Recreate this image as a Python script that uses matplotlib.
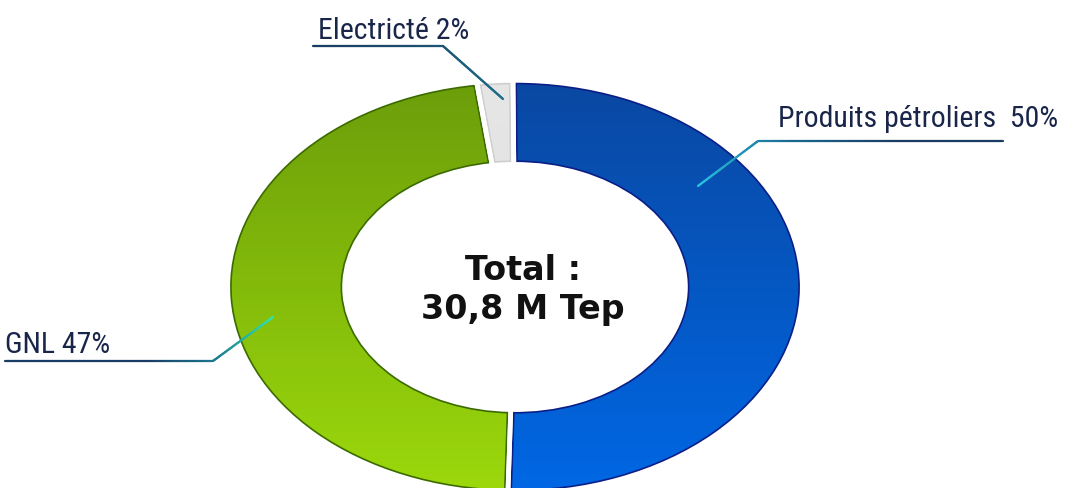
import numpy as np
import matplotlib
matplotlib.use("Agg")
import matplotlib.pyplot as plt
from matplotlib.colors import LinearSegmentedColormap
from matplotlib.patches import PathPatch
from matplotlib.collections import LineCollection

# Energy mix (share of total, %)
categories = ["Produits pétroliers", "GNL", "Electricté"]
shares = [50, 47, 2]
label_texts = ["Produits pétroliers  50%", "GNL 47%", "Electricté 2%"]
total_lines = ["Total :", "30,8 M Tep"]

# Fill gradients (top colour, bottom colour) and outline colour per slice
fill_top = ["#0a47a0", "#6a9c0a", "#e6e6e6"]
fill_bottom = ["#0068e6", "#9dda0c", "#dedede"]
outline = ["#0a1e86", "#3b6a00", "#cfcfcf"]

W, H = 1074, 489
fig = plt.figure(figsize=(W / 100, H / 100), dpi=100)
ax = fig.add_axes([0, 0, 1, 1])
ax.set_axis_off()

# ring geometry in pixels: centre and horizontal / vertical radius
cx, cy, rx, ry = 515, 288, 285, 205
xlim = (-cx / rx, (W - cx) / rx)
ylim = (-(H - cy) / ry, cy / ry)

ring_width = 0.41
wedges, _ = ax.pie(
    shares, startangle=90.4, counterclock=False, radius=1.008,
    colors=fill_bottom,
    wedgeprops=dict(width=ring_width, edgecolor="none", linewidth=0),
)

# vertical colour gradient inside every slice
grad = np.linspace(0, 1, 256).reshape(-1, 1)
for w, c0, c1 in zip(wedges, fill_bottom, fill_top):
    cmap = LinearSegmentedColormap.from_list("g", [c0, c1])
    im = ax.imshow(grad, cmap=cmap, extent=[-1.05, 1.05, -1.05, 1.05],
                   origin="lower", aspect="auto", zorder=1.5,
                   interpolation="bilinear")
    im.set_clip_path(w)

# thin dark outline inside each slice, white gaps between slices
gap = 3.4
for w, oc in zip(wedges, outline):
    edge = PathPatch(w.get_path(), transform=w.get_transform(),
                     facecolor="none", edgecolor=oc, linewidth=gap + 2.4,
                     zorder=3)
    edge.set_clip_path(w)
    ax.add_patch(edge)
    sep = PathPatch(w.get_path(), transform=w.get_transform(),
                    facecolor="none", edgecolor="white", linewidth=gap,
                    zorder=4)
    ax.add_patch(sep)

ax.set_xlim(*xlim)
ax.set_ylim(*ylim)


def fig_xy(px, py):
    return px / W, 1 - py / H


def leader(points, colors, lw=1.6):
    """Polyline given in pixels, coloured along its length."""
    pts = np.array(points, dtype=float)
    seg_len = np.hypot(*np.diff(pts, axis=0).T)
    t_nodes = np.concatenate([[0], np.cumsum(seg_len)]) / seg_len.sum()
    t = np.linspace(0, 1, 200)
    xs = np.interp(t, t_nodes, pts[:, 0])
    ys = np.interp(t, t_nodes, pts[:, 1])
    fx, fy = fig_xy(xs, ys)
    segs = np.stack([np.column_stack([fx[:-1], fy[:-1]]),
                     np.column_stack([fx[1:], fy[1:]])], axis=1)
    cmap = LinearSegmentedColormap.from_list("l", colors)
    lc = LineCollection(segs, colors=cmap(t[:-1]), linewidths=lw,
                        transform=fig.transFigure, zorder=6,
                        capstyle="round")
    fig.add_artist(lc)


label_font = ["Liberation Sans Narrow", "Roboto Condensed", "DejaVu Sans"]
label_color = "#19264a"
label_size = 21.5

# Produits pétroliers
fig.text(*fig_xy(778, 127), label_texts[0], fontsize=label_size,
         family=label_font, color=label_color, ha="left", va="baseline")
leader([(1003, 142), (758, 142), (698, 187)],
       ["#1a3c64", "#1a3c64", "#1a6a90", "#28c4e2"])

# GNL
fig.text(*fig_xy(5, 353), label_texts[1], fontsize=label_size,
         family=label_font, color=label_color, ha="left", va="baseline")
leader([(5, 362), (213, 362), (273, 318)],
       ["#1a3c64", "#1a3c64", "#1a3c64", "#1c7a90", "#2fe8b0"])

# Electricté
fig.text(*fig_xy(318, 39), label_texts[2], fontsize=label_size,
         family=label_font, color=label_color, ha="left", va="baseline")
leader([(313, 47), (443, 47), (503, 100)],
       ["#1a3c64", "#1a4f70", "#1f6d88"])

# centre total
fig.text(*fig_xy(523, 270), total_lines[0], fontsize=24, fontweight="bold",
         family="DejaVu Sans", color="#111111", ha="center", va="center")
fig.text(*fig_xy(523, 310), total_lines[1], fontsize=24, fontweight="bold",
         family="DejaVu Sans", color="#111111", ha="center", va="center")

fig.savefig("out.png", dpi=100, facecolor="white")
